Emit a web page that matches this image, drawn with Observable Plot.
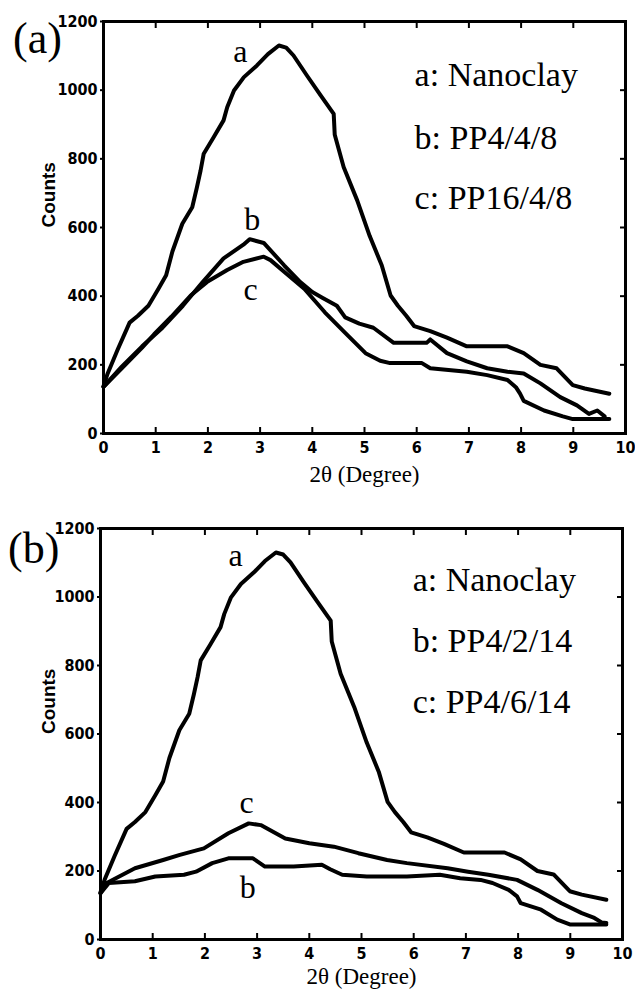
<!DOCTYPE html>
<html><head><meta charset="utf-8">
<script src="https://cdn.jsdelivr.net/npm/d3@7"></script>
<script src="https://cdn.jsdelivr.net/npm/@observablehq/plot@0.6"></script>
<style>
body{margin:0;background:#fff;}
#wrap{position:relative;width:635px;height:999px;overflow:hidden;}
.panel{position:absolute;left:0;}
.plabel{position:absolute;font-family:"Liberation Serif","Times New Roman",serif;font-size:44px;line-height:1;color:#000;}
</style></head><body>
<div id="wrap">
  <div id="pa" class="panel" style="top:0"></div>
  <div id="pb" class="panel" style="top:500px"></div>
  <div class="plabel" style="left:13px;top:17px">(a)</div>
  <div class="plabel" style="left:8px;top:527px">(b)</div>
</div>
<script>
const xTicks = [0,1,2,3,4,5,6,7,8,9,10];
const yTicks = [0,200,400,600,800,1000,1200];

// a: Nanoclay (same in both panels)
const nanoclay = [[0,138],[0.08,175],[0.27,244],[0.5,323],[0.66,343],[0.86,372],[1.05,421],[1.2,461],[1.32,530],[1.51,611],[1.7,659],[1.79,717],[1.86,766],[1.92,815],[2.11,863],[2.3,912],[2.37,950],[2.5,999],[2.69,1038],[2.94,1072],[3.15,1105],[3.36,1130],[3.5,1124],[3.64,1101],[3.9,1042],[4.16,985],[4.41,931],[4.43,870],[4.6,776],[4.86,679],[5.1,575],[5.33,490],[5.5,402],[5.64,372],[5.8,343],[5.95,313],[6.26,298],[6.58,279],[6.96,254],[7.74,254],[8.05,234],[8.37,200],[8.68,190],[8.99,141],[9.22,131],[9.69,116]];
// panel (a)
const pp4_4_8 = [[0,136],[0.35,195],[0.74,254],[1.13,308],[1.52,372],[1.9,441],[2.3,510],[2.68,550],[2.8,566],[3.07,555],[3.46,490],[3.77,441],[4.0,412],[4.2,395],[4.47,372],[4.63,338],[4.9,320],[5.17,308],[5.56,264],[6.19,264],[6.26,274],[6.58,234],[6.96,210],[7.35,190],[7.74,180],[8.05,175],[8.37,146],[8.75,106],[9.07,82],[9.3,57],[9.46,67],[9.6,50]];
const pp16_4_8 = [[0,136],[0.35,190],[0.74,250],[0.97,289],[1.3,340],[1.67,402],[1.98,441],[2.37,476],[2.68,500],[3.07,515],[3.2,505],[3.46,471],[3.85,421],[4.24,353],[4.63,293],[5.02,234],[5.3,212],[5.49,205],[6.1,205],[6.26,190],[6.96,180],[7.35,170],[7.74,156],[7.9,135],[7.98,116],[8.05,95],[8.44,67],[8.8,50],[8.99,42],[9.69,42]];
// panel (b)
const pp4_2_14 = [[0,135],[0.16,165],[0.66,170],[1.05,184],[1.6,189],[1.83,198],[2.14,223],[2.45,237],[2.92,237],[3.15,213],[3.7,213],[4.24,218],[4.4,205],[4.63,189],[5.1,184],[5.87,184],[6.5,189],[6.89,179],[7.28,174],[7.51,165],[7.82,145],[7.98,126],[8.05,106],[8.44,87],[8.75,58],[8.99,44],[9.69,44]];
const pp4_6_14 = [[0,135],[0.12,165],[0.66,208],[1.2,232],[1.52,247],[1.98,266],[2.45,310],[2.84,339],[3.07,334],[3.54,295],[4.0,281],[4.47,271],[4.94,252],[5.49,232],[5.87,223],[6.65,208],[7.04,198],[7.43,189],[7.98,174],[8.37,145],[8.83,106],[9.22,77],[9.46,63],[9.6,50],[9.69,48]];

const legendA = ["a: Nanoclay","b: PP4/4/8","c: PP16/4/8"];
const legendB = ["a: Nanoclay","b: PP4/2/14","c: PP4/6/14"];
const curveLabelsA = ["a","b","c"];
const curveLabelsB = ["a","c","b"];

// annotation anchor points (data units)
const legendPosA = [[5.96,1043],[5.96,859],[5.96,685]];
const legendPosB = [[5.98,1048],[5.98,870],[5.98,692]];
const curvePosA = [[2.62,1112],[2.85,623],[2.82,420]];
const curvePosB = [[2.59,1121],[2.8,400],[2.82,152]];

const xTitle = "2θ (Degree)";
const yTitle = "Counts";

function panel(cfg){
  const serif = "'Liberation Serif','Times New Roman',serif";
  const lines = cfg.series.map(s => Plot.line(s, {x:d=>d[0], y:d=>d[1], stroke:"#000", strokeWidth:4, strokeLinejoin:"round", strokeLinecap:"round"}));
  const leg = cfg.legend.map((t,i)=>({t, x:cfg.legendPos[i][0], y:cfg.legendPos[i][1]}));
  const cl = cfg.curveLabels.map((t,i)=>({t, x:cfg.curvePos[i][0], y:cfg.curvePos[i][1]}));
  const fmt = d => String(d);
  return Plot.plot({
    width:635, height:cfg.h,
    marginTop:cfg.mt, marginBottom:cfg.mb, marginLeft:cfg.ml, marginRight:cfg.mr,
    x:{domain:[0,10]}, y:{domain:[0,1200]},
    style:{fontFamily:"'Liberation Sans Narrow','Arial Narrow','DejaVu Sans Condensed',sans-serif", fontWeight:"bold", fontSize:"16px", background:"#fff", color:"#000", overflow:"visible"},
    marks:[
      Plot.axisX({anchor:"bottom", ticks:xTicks, tickSize:0, tickPadding:8, tickFormat:fmt, label:null}),
      Plot.axisX({anchor:"bottom", ticks:xTicks, tickSize:-6, tickFormat:()=>"", label:null, strokeWidth:2}),
      Plot.axisX({anchor:"top", ticks:xTicks, tickSize:-6, tickFormat:()=>"", label:null, strokeWidth:2}),
      Plot.axisY({anchor:"left", ticks:yTicks, tickSize:3, tickPadding:3, tickFormat:fmt, label:null, strokeWidth:2}),
      Plot.axisY({anchor:"right", ticks:yTicks, tickSize:-6, tickFormat:()=>"", label:null, strokeWidth:2}),
      Plot.frame({stroke:"#000", strokeWidth:3}),
      ...lines,
      Plot.text(leg, {x:"x", y:"y", text:"t", textAnchor:"start", fontFamily:serif, fontWeight:"normal", fontSize:34, fill:"#000"}),
      Plot.text(cl, {x:"x", y:"y", text:"t", textAnchor:"middle", fontFamily:serif, fontWeight:"normal", fontSize:32, fill:"#000"}),
      Plot.text([xTitle], {text:d=>d, frameAnchor:"bottom", dy:cfg.xdy, fontFamily:serif, fontWeight:"normal", fontSize:23, fill:"#000"}),
      Plot.text([yTitle], {text:d=>d, frameAnchor:"left", dx:cfg.ydx, rotate:-90, fontFamily:"'Liberation Sans',Arial,sans-serif", fontWeight:"bold", fontSize:19, fill:"#000"})
    ]
  });
}

document.getElementById("pa").appendChild(panel({
  series:[nanoclay, pp4_4_8, pp16_4_8], legend:legendA, legendPos:legendPosA,
  curveLabels:curveLabelsA, curvePos:curvePosA,
  h:500, mt:21, mb:67, ml:103, mr:10, xdy:48, ydx:-55
}));
document.getElementById("pb").appendChild(panel({
  series:[nanoclay, pp4_2_14, pp4_6_14], legend:legendB, legendPos:legendPosB,
  curveLabels:curveLabelsB, curvePos:curvePosB,
  h:499, mt:28, mb:60, ml:100, mr:13, xdy:44, ydx:-52
}));
</script>
</body></html>
